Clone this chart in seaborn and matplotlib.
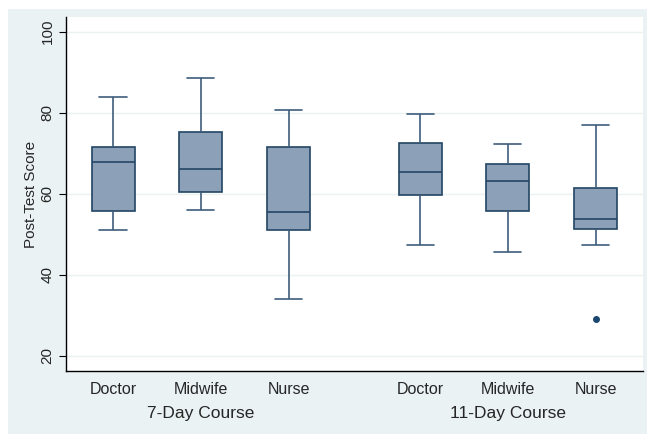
import numpy as np
import pandas as pd
import matplotlib
matplotlib.use("Agg")
import matplotlib.pyplot as plt
from matplotlib.patches import Rectangle
import seaborn as sns

# box statistics (Stata-style box plot)
courses = ["7-Day Course", "7-Day Course", "7-Day Course",
           "11-Day Course", "11-Day Course", "11-Day Course"]
roles = ["Doctor", "Midwife", "Nurse", "Doctor", "Midwife", "Nurse"]
whis_lo = [50.9, 56.0, 33.9, 47.4, 45.5, 47.4]
q1 = [55.7, 60.4, 50.9, 59.6, 55.6, 51.2]
median = [67.7, 66.0, 55.5, 65.3, 63.2, 53.7]
q3 = [71.4, 75.3, 71.6, 72.4, 67.3, 61.5]
whis_hi = [83.8, 88.6, 80.7, 79.6, 72.2, 76.9]
outliers = [[], [], [], [], [], [29.1]]
xpos = [0, 1, 2, 3.5, 4.5, 5.5]

# nine-point samples whose quartiles land exactly on the read values
rows = []
for i in range(len(roles)):
    lo = outliers[i][0] if outliers[i] else whis_lo[i]
    vals = [lo, whis_lo[i], q1[i], q1[i], median[i], q3[i], q3[i], whis_hi[i], whis_hi[i]]
    for v in vals:
        rows.append({"pos": xpos[i], "score": v})
df = pd.DataFrame(rows)

sns.set_theme(style="white")
plt.rcParams['font.family'] = ['Liberation Sans', 'DejaVu Sans']

bg = "#EAF2F3"
fig = plt.figure(figsize=(6.47, 4.34), dpi=100, facecolor="white")
fig.patches.append(Rectangle((8 / 647, 0), 639 / 647, 425 / 434,
                             transform=fig.transFigure, facecolor=bg,
                             edgecolor="none", zorder=-10))
ax = fig.add_axes([65.7 / 647, 1 - 371 / 434, (643 - 65.7) / 647, (371 - 17) / 434])
ax.set_zorder(1)
ax.set_facecolor("white")

edge = "#234565"
sns.boxplot(data=df, x="pos", y="score", native_scale=True, ax=ax,
            width=0.49, color="#8CA1B7", linecolor=edge, linewidth=1.2,
            whis=1.5, saturation=1, capwidths=0.31,
            whiskerprops=dict(color="#3E5D7C", linewidth=1.2),
            capprops=dict(color="#3E5D7C", linewidth=1.2),
            flierprops=dict(marker="o", markersize=4, markerfacecolor="#1A476F",
                            markeredgecolor="#1A476F"))

ax.set_xlim(-0.54, 6.04)
ax.set_ylim(16.2, 103.6)
ax.set_yticks([20, 40, 60, 80, 100])
ax.set_yticklabels(["20", "40", "60", "80", "100"], rotation=90, va="center", fontsize=11)
ax.set_xticks(xpos)
ax.set_xticklabels(roles, fontsize=11.5)
ax.tick_params(axis="x", length=0, pad=8)
ax.tick_params(axis="y", length=5, width=0.8, color="black", pad=3, left=True)
ax.yaxis.grid(True, color="#EAF2F3", linewidth=1)
ax.set_axisbelow(True)
ax.set_xlabel("")
ax.set_ylabel("Post-Test Score", fontsize=11, labelpad=2)

for s in ["top", "right"]:
    ax.spines[s].set_visible(False)
for s in ["left", "bottom"]:
    ax.spines[s].set_color("black")
    ax.spines[s].set_linewidth(1.0)

# course group labels below the role labels
for name, center in [("7-Day Course", np.mean(xpos[:3])), ("11-Day Course", np.mean(xpos[3:]))]:
    ax.text(center, -0.12, name, transform=ax.get_xaxis_transform(),
            ha="center", va="center", fontsize=12.5)

fig.savefig("out.png", dpi=100, facecolor="white")
